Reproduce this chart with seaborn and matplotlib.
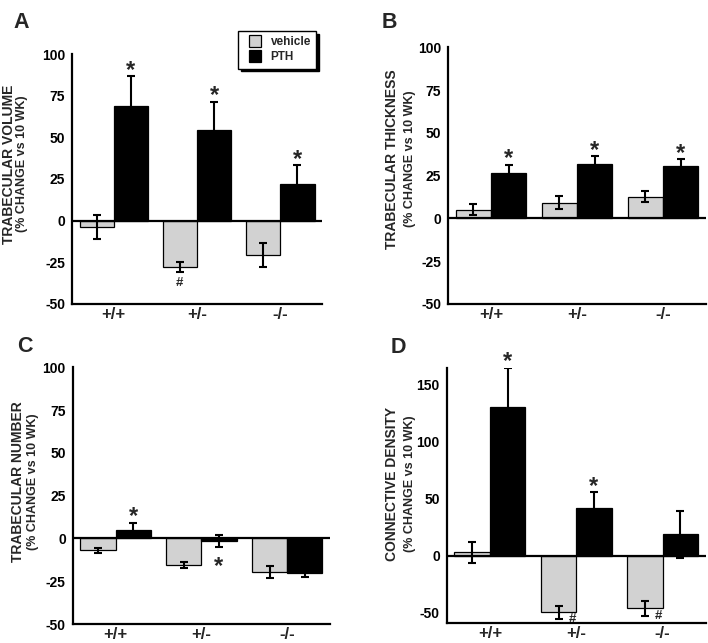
import numpy as np
import pandas as pd
import matplotlib
matplotlib.use("Agg")
import matplotlib.pyplot as plt
import seaborn as sns
from matplotlib.lines import Line2D

# ---------------- data ----------------
genotypes = ["+/+", "+/-", "-/-"]
treatments = ["vehicle", "PTH"]

vol_vehicle = [-3.8, -27.6, -20.8]
vol_vehicle_err = [7.4, 3.0, 7.3]
vol_pth = [68.8, 54.2, 21.8]
vol_pth_err = [18.0, 17.2, 11.6]

thk_vehicle = [5.2, 9.3, 12.8]
thk_vehicle_err = [3.0, 4.0, 3.0]
thk_pth = [26.6, 31.7, 30.5]
thk_pth_err = [4.7, 4.6, 4.0]

num_vehicle = [-7.0, -15.5, -19.8]
num_vehicle_err = [1.7, 2.0, 3.4]
num_pth = [4.9, -1.6, -20.4]
num_pth_err = [4.2, 3.4, 2.0]

con_vehicle = [2.9, -49.6, -46.1]
con_vehicle_err = [9.0, 5.8, 6.7]
con_pth = [130.4, 41.4, 18.7]
con_pth_err = [34.0, 14.3, 20.5]

ticks_abc = [-50, -25, 0, 25, 50, 75, 100]
ticks_d = [-50, 0, 50, 100, 150]

panel_letters = ["A", "B", "C", "D"]
label_main = ["TRABECULAR VOLUME", "TRABECULAR THICKNESS",
              "TRABECULAR NUMBER", "CONNECTIVE DENSITY"]
label_sub = "(% CHANGE vs 10 WK)"

# significance marks: (genotype index, treatment, symbol, placement)
marks_a = [(0, "PTH", "*", "above"), (1, "PTH", "*", "above"),
           (2, "PTH", "*", "above"), (1, "vehicle", "#", "below")]
marks_b = [(0, "PTH", "*", "above"), (1, "PTH", "*", "above"),
           (2, "PTH", "*", "above")]
marks_c = [(0, "PTH", "*", "above"), (1, "PTH", "*", "below")]
marks_d = [(0, "PTH", "*", "above"), (1, "PTH", "*", "above"),
           (1, "vehicle", "#", "right"), (2, "vehicle", "#", "right")]

# ---------------- style ----------------
sns.set_style("white")
plt.rcParams["font.family"] = ["Liberation Sans", "DejaVu Sans"]
plt.rcParams["font.weight"] = "bold"

palette = {"vehicle": "#d2d2d2", "PTH": "#000000"}
W, H = 708, 643
fig = plt.figure(figsize=(W / 100, H / 100), dpi=100)


def px_axes(left, top, right, bottom):
    return fig.add_axes([left / W, 1 - bottom / H, (right - left) / W, (bottom - top) / H])


def make_df(veh, veh_err, pth, pth_err):
    rows = []
    for i, g in enumerate(genotypes):
        rows.append(dict(genotype=g, treatment="vehicle", value=veh[i], err=veh_err[i]))
        rows.append(dict(genotype=g, treatment="PTH", value=pth[i], err=pth_err[i]))
    return pd.DataFrame(rows)


panels = [
    dict(df=make_df(vol_vehicle, vol_vehicle_err, vol_pth, vol_pth_err),
         box=(72, 54, 322, 304), ylim=(-50, 100), ticks=ticks_abc, marks=marks_a,
         letter=(13, 28), lab1=(9, 164), lab2=(22, 164)),
    dict(df=make_df(thk_vehicle, thk_vehicle_err, thk_pth, thk_pth_err),
         box=(448, 47.3, 706, 304), ylim=(-50, 100), ticks=ticks_abc, marks=marks_b,
         letter=(382, 28), lab1=(392, 159), lab2=(410, 159)),
    dict(df=make_df(num_vehicle, num_vehicle_err, num_pth, num_pth_err),
         box=(72.7, 367.3, 330, 624), ylim=(-50, 100), ticks=ticks_abc, marks=marks_c,
         letter=(17, 352), lab1=(18, 482), lab2=(33, 482)),
    dict(df=make_df(con_vehicle, con_vehicle_err, con_pth, con_pth_err),
         box=(446.7, 367.7, 705.7, 623.3), ylim=(-59.2, 164.6), ticks=ticks_d, marks=marks_d,
         letter=(391, 353), lab1=(392, 484), lab2=(410, 484)),
]

for k, p in enumerate(panels):
    ax = px_axes(*p["box"])
    df = p["df"]
    sns.barplot(data=df, x="genotype", y="value", hue="treatment",
                order=genotypes, hue_order=treatments, palette=palette,
                width=0.82, edgecolor="black", linewidth=0.9, saturation=1,
                errorbar=None, legend=False, ax=ax, zorder=2)
    # error bars at bar centres (patches drawn per hue level, then per category)
    centers = {}
    for ti, t in enumerate(treatments):
        for gi, g in enumerate(genotypes):
            patch = ax.patches[ti * len(genotypes) + gi]
            x = patch.get_x() + patch.get_width() / 2
            row = df[(df.genotype == g) & (df.treatment == t)].iloc[0]
            centers[(gi, t)] = (x, row.value, row.err)
            ax.errorbar(x, row.value, yerr=row.err, fmt="none", ecolor="black",
                        elinewidth=1.5, capsize=2.6, capthick=1.5, zorder=3)
    ax.axhline(0, color="black", lw=1.6, zorder=4)

    for gi, t, sym, place in p["marks"]:
        x, v, e = centers[(gi, t)]
        fs = 17 if sym == "*" else 9.5
        if place == "above":
            y, off, va = v + e, (0, 2), "bottom"
        elif place == "below":
            y, off, va = v - e, (0, -2 if sym == "*" else -4), "top"
        else:
            y, off, va = v - e, (10, 0), "center"
        if sym == "*":
            off = (off[0], off[1] - 6) if place == "above" else (off[0], off[1] - 4)
        ax.annotate(sym, (x, y), xytext=off, textcoords="offset points",
                    ha="center", va=va, fontsize=fs, fontweight="bold",
                    annotation_clip=False, zorder=5)

    ax.set_xlim(-0.5, 2.5)
    ax.set_ylim(*p["ylim"])
    ax.set_yticks(p["ticks"])
    ax.set_yticklabels([str(t) for t in p["ticks"]], fontsize=10, fontweight="bold")
    ax.set_xticks([0.5, 1.5, 2.5])
    ax.set_xticklabels([])
    ax.set_xticks([0, 1, 2], minor=True)
    ax.set_xticklabels(genotypes, minor=True, fontsize=12, fontweight="bold")
    ax.tick_params(axis="x", which="major", direction="in", length=4, width=1.5, colors="black")
    ax.tick_params(axis="x", which="minor", length=0, pad=2)
    ax.tick_params(axis="y", direction="out", length=3.5, width=1.5, pad=1.5, colors="black")
    ax.set_xlabel("")
    ax.set_ylabel("")
    for s in ["top", "right"]:
        ax.spines[s].set_visible(False)
    for s in ["left", "bottom"]:
        ax.spines[s].set_linewidth(1.6)
        ax.spines[s].set_color("black")
    ax.set_facecolor("none")

    lx, ly = p["letter"]
    fig.text(lx / W, 1 - ly / H, panel_letters[k], fontsize=15.5, fontweight="bold",
             ha="left", va="baseline")
    x1, y1 = p["lab1"]
    fig.text(x1 / W, 1 - y1 / H, label_main[k], rotation=90, fontsize=10,
             fontweight="bold", ha="center", va="center")
    x2, y2 = p["lab2"]
    fig.text(x2 / W, 1 - y2 / H, label_sub, rotation=90, fontsize=9,
             fontweight="bold", ha="center", va="center")

# legend
handles = [Line2D([], [], marker="s", linestyle="none", markersize=8,
                  markerfacecolor=palette[t], markeredgecolor="black", markeredgewidth=0.9)
           for t in treatments]
leg = fig.legend(handles, treatments, loc="upper left",
                 bbox_to_anchor=(238 / W, 1 - 31 / H), bbox_transform=fig.transFigure,
                 frameon=True, fancybox=False, shadow={"color": "black", "alpha": 1},
                 prop={"size": 8.5, "weight": "bold"}, borderpad=0.45,
                 handlelength=2.0, handletextpad=0.3, labelspacing=0.25, borderaxespad=0)
leg.get_frame().set_edgecolor("black")
leg.get_frame().set_linewidth(1.0)

fig.savefig("out.png", dpi=100)
